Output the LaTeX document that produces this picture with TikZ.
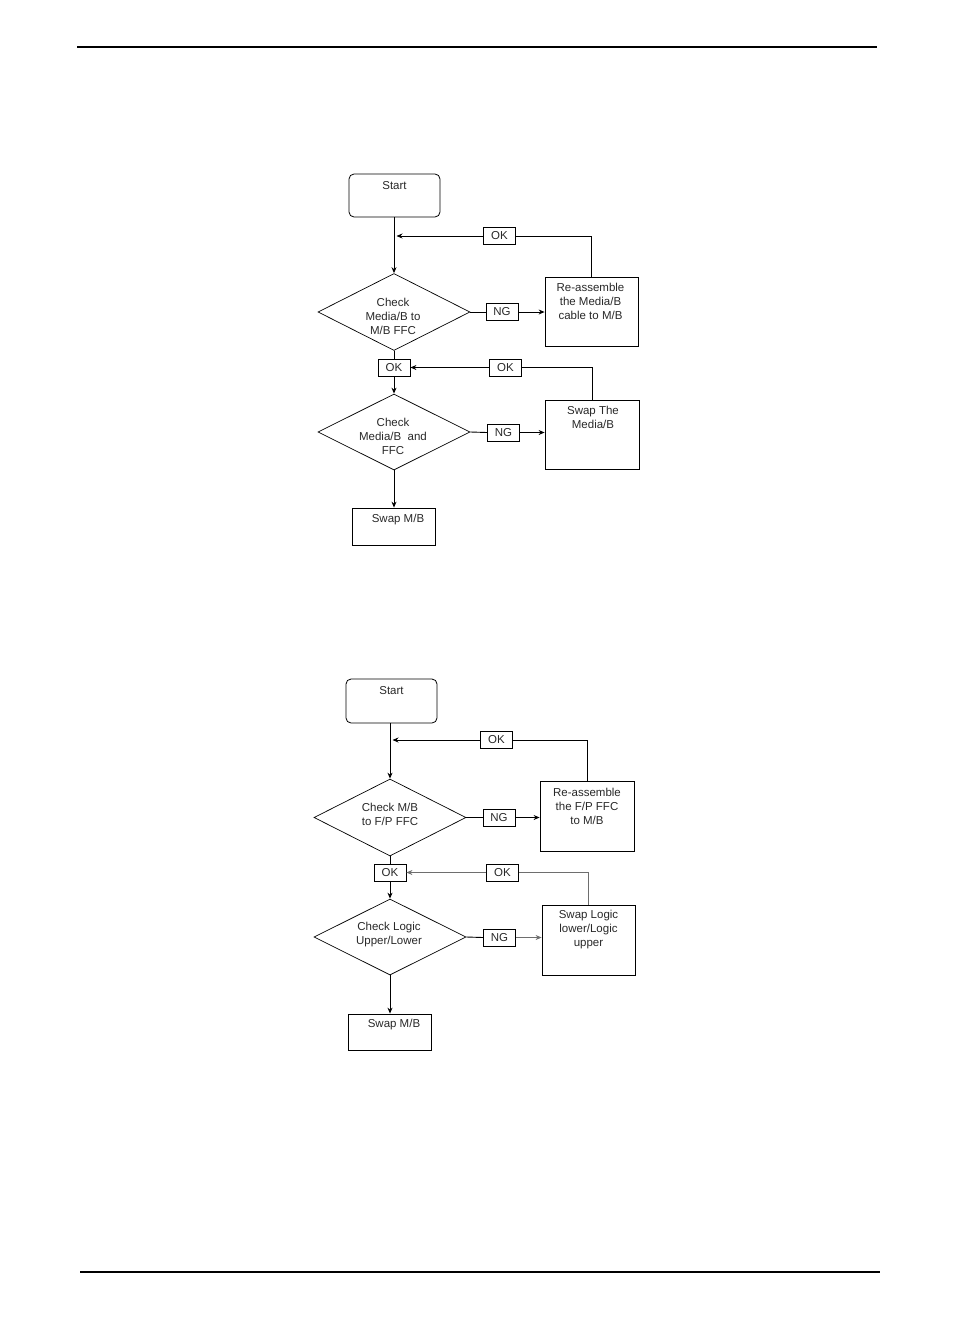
\documentclass[tikz,border=0pt]{standalone}
\usepackage{fontspec}
\setmainfont{Liberation Sans}
\usetikzlibrary{shapes.geometric,arrows.meta}
\definecolor{lgray}{RGB}{110,110,110}
\definecolor{txt}{RGB}{40,40,40}
\begin{document}
\begin{tikzpicture}[x=1pt,y=-1pt,
  every node/.style={font=\fontsize{11.5}{14}\selectfont, text=txt, align=center},
  box/.style={draw, line width=0.8pt, inner sep=0pt},
  startbox/.style={box, rounded corners=5pt, minimum width=91pt, minimum height=43pt},
  tag/.style={box, minimum width=32pt, minimum height=17pt},
  dia/.style={diamond, draw, line width=0.7pt, inner sep=0pt, minimum width=152pt, minimum height=77pt},
  conn/.style={line width=0.9pt},
  arr/.style={conn, -{Stealth[length=6pt,width=5pt]}},
  rule/.style={line width=1.3pt}
]
\useasboundingbox (0,0) rectangle (954,1336);
% page rules
\coordinate (tl) at (77,47); \coordinate (tr) at (877,47);
\coordinate (bl) at (80,1272); \coordinate (br) at (880,1272);
\draw[rule] (tl) -- (tr);
\draw[rule] (bl) -- (br);

% ===== Top flowchart =====
\node[startbox] (start1) at (394.5,195.5) {};
\node (start1t) at (394.5,186) {Start};
\node[dia] (d1) at (394,312) {};
\node (d1t) at (393,316) {Check\\Media/B to\\M/B FFC};
\node[box, minimum width=93pt, minimum height=69pt] (r1) at (591.5,311.5) {};
\node (r1t) at (590.5,301.5) {Re-assemble\\the Media/B\\cable to M/B};
\node[tag] (ok1) at (499.5,236) {OK};
\coordinate (j1) at (396.5,236);
\node[tag] (ng1) at (502,312) {NG};
\node[tag] (ok2) at (394,367.5) {OK};
\node[tag] (ok3) at (505.5,367.5) {OK};
\node[box, minimum width=94pt, minimum height=69pt] (r2) at (592,434.5) {};
\node (r2t) at (593,417) {Swap The\\Media/B};
\node[dia, minimum height=76pt] (d2) at (394,432) {};
\node (d2t) at (393,436.5) {Check\\Media/B~ and\\FFC};
\node[tag] (ng2) at (503.5,432.5) {NG};
\node[box, minimum width=83pt, minimum height=37pt] (s1) at (394,526.5) {};
\node (s1t) at (398,520) {Swap M/B};

\draw[arr] (start1.south -| d1.north) -- (d1.north);
\draw[conn] (r1.north) |- (ok1.east);
\draw[arr] (ok1.west) -- (j1);
\draw[conn] (d1.east) -- (ng1.west);
\draw[arr] (ng1.east) -- (ng1.east -| r1.west);
\draw[conn] (d1.south) -- (ok2.north);
\draw[arr] (ok2.south) -- (d2.north);
\draw[conn] (r2.north) |- (ok3.east);
\draw[arr] (ok3.west) -- (ok2.east);
\draw[conn] (d2.east) -- (ng2.west);
\draw[arr] (ng2.east) -- (ng2.east -| r2.west);
\draw[arr] (d2.south) -- (s1.north);

% ===== Bottom flowchart =====
\node[startbox, minimum height=44pt] (start2) at (391.5,701) {};
\node (start2t) at (391.5,691) {Start};
\node[dia] (d3) at (390,817.5) {};
\node (d3t) at (390,814) {Check M/B\\to F/P FFC};
\node[box, minimum width=94pt, minimum height=70pt] (r3) at (587,816) {};
\node (r3t) at (587,806) {Re-assemble\\the F/P FFC\\to M/B};
\node[tag] (ok4) at (496.5,740) {OK};
\coordinate (j2) at (392.5,740);
\node[tag] (ng3) at (499,817.5) {NG};
\node[tag] (ok5) at (390,872.5) {OK};
\node[tag] (ok6) at (502.5,872.5) {OK};
\node[box, minimum width=93pt, minimum height=70pt] (r4) at (588.5,940) {};
\node (r4t) at (588.5,930) {Swap Logic\\lower/Logic\\upper};
\node[dia, minimum height=76pt] (d4) at (390,937) {};
\node (d4t) at (389,934.5) {Check Logic\\Upper/Lower};
\node[tag] (ng4) at (499.5,937.5) {NG};
\node[box, minimum width=83pt, minimum height=36pt] (s2) at (389.5,1032) {};
\node (s2t) at (394,1025) {Swap M/B};

\draw[arr] (start2.south -| d3.north) -- (d3.north);
\draw[conn] (r3.north) |- (ok4.east);
\draw[arr] (ok4.west) -- (j2);
\draw[conn] (d3.east) -- (ng3.west);
\draw[arr] (ng3.east) -- (ng3.east -| r3.west);
\draw[conn] (d3.south) -- (ok5.north);
\draw[arr] (ok5.south) -- (d4.north);
\draw[conn, lgray] (r4.north) |- (ok6.east);
\draw[arr, lgray] (ok6.west) -- (ok5.east);
\draw[conn] (d4.east) -- (ng4.west);
\draw[arr, lgray] (ng4.east) -- (ng4.east -| r4.west);
\draw[arr] (d4.south) -- (s2.north -| d4.south);
\end{tikzpicture}
\end{document}
